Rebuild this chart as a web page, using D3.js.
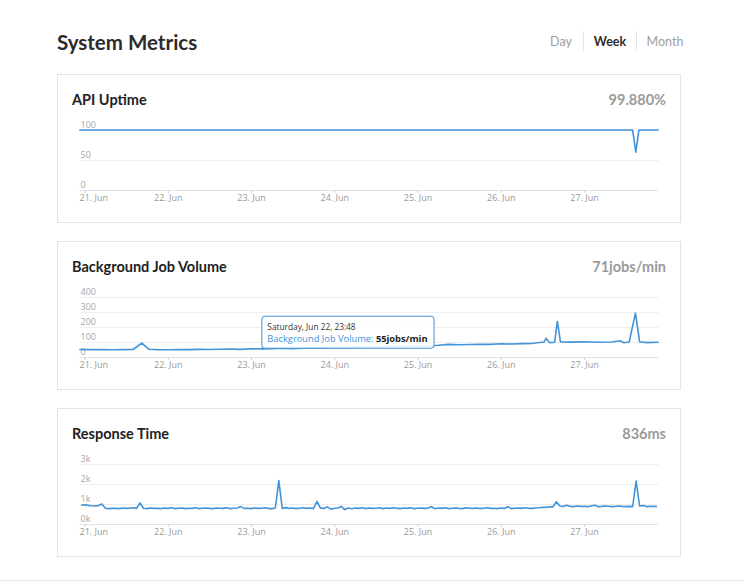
<!DOCTYPE html>
<html><head><meta charset="utf-8">
<script src="https://cdn.jsdelivr.net/npm/d3@7"></script>
<style>
html,body{margin:0;padding:0;background:#fff;}
svg{display:block;}
</style></head>
<body>
<svg id="chart" width="744" height="583"></svg>
<script>
// ---------------- DATA ----------------
const pageTitle = "System Metrics";
const rangeOptions = ["Day", "Week", "Month"];
const activeRange = "Week";

const panelTitles = ["API Uptime", "Background Job Volume", "Response Time"];
const panelValues = ["99.880%", "71jobs/min", "836ms"];

// hours offset from 21 Jun 00:00 (UTC)
const uptimeHours = [-1.5, 158.0, 158.9, 159.8, 165.5];
const uptimeValues = [100, 100, 63, 100, 100];
const uptimeTicks = [0, 50, 100];
const uptimeTickLabels = ["0", "50", "100"];

const jobsHours = [-1.5, 2, 5, 8, 11, 14, 16.5, 18.5, 21, 24, 27, 30, 33, 36, 39, 42, 45, 47.8, 51, 54, 57, 60, 63, 66, 69, 72, 75, 78, 81, 84, 87, 90, 93, 96, 99, 102, 105, 108, 111, 114, 117, 120, 123, 126, 129, 130.5, 132.5, 133, 134, 135.5, 136.3, 137.2, 140, 143, 146, 149, 152, 154.3, 155.5, 157, 158.8, 160, 162, 165.5];
const jobsValues = [50, 49, 50, 48, 49, 50, 93, 52, 49, 48, 50, 49, 51, 50, 52, 53, 51, 55, 54, 56, 58, 56, 60, 58, 61, 63, 62, 66, 65, 68, 70, 72, 71, 75, 74, 78, 84, 82, 83, 85, 84, 88, 87, 89, 90, 95, 100, 125, 96, 98, 237, 100, 99, 101, 100, 98, 100, 108, 95, 100, 293, 102, 96, 98];
const jobsTicks = [0, 100, 200, 300, 400];
const jobsTickLabels = ["0", "100", "200", "300", "400"];

// hourly samples, first sample at hour -1 (pointStart / pointInterval style)
const respStartHour = -1;
const respStepHours = 1;
const respValues = [
  940, 960, 930, 910, 900, 920, 1000, 790, 770, 780, 790, 770,
  800, 780, 790, 810, 780, 1050, 790, 770, 800, 780, 790, 770,
  800, 780, 810, 770, 790, 800, 770, 790, 780, 810, 770, 790,
  800, 780, 770, 800, 790, 780, 810, 770, 790, 800, 870, 780,
  790, 770, 800, 780, 790, 810, 780, 770, 800, 2170, 780, 820,
  780, 800, 770, 790, 810, 780, 800, 770, 1130, 790, 780, 860,
  740, 790, 800, 880, 720, 800, 760, 800, 780, 810, 770, 800,
  780, 790, 810, 770, 800, 780, 810, 790, 770, 800, 780, 810,
  770, 790, 800, 780, 790, 870, 760, 800, 780, 810, 770, 790,
  800, 780, 770, 810, 790, 780, 800, 770, 790, 810, 780, 790,
  770, 800, 780, 860, 770, 790, 800, 780, 810, 790, 780, 800,
  810, 830, 840, 860, 850, 1110, 900, 880, 940, 880, 870, 900,
  880, 890, 870, 900, 940, 870, 880, 900, 890, 870, 880, 900,
  880, 870, 880, 870, 2150, 900, 920, 870, 880, 890, 870
];
const respTicks = [0, 1000, 2000, 3000];
const respTickLabels = ["0k", "1k", "2k", "3k"];

const tooltipHeader = "Saturday, Jun 22, 23:48";
const tooltipSeries = "Background Job Volume";
const tooltipValue = "55jobs/min";
const tooltipHour = 47.8;
const tooltipVal = 55;

// ---------------- DRAW ----------------
const svg = d3.select("#chart");
const BLUE = "#4393d8";
const t0 = Date.UTC(2014, 5, 21, 0, 0);
const toDate = h => new Date(t0 + h * 3600e3);
const respHours = respValues.map((v, k) => respStartHour + k * respStepHours);

svg.append("line").attr("x1", 0).attr("x2", 744).attr("y1", 580.5).attr("y2", 580.5)
  .attr("stroke", "#e6e6e6");

svg.append("text").attr("x", 57).attr("y", 50).text(pageTitle)
  .attr("font-family", "Lato, 'Open Sans', sans-serif").attr("font-weight", 700)
  .attr("font-size", 20.5).attr("fill", "#2b2b2b");

const optX = [561, 610, 665];
rangeOptions.forEach((o, i) => {
  svg.append("text").attr("x", optX[i]).attr("y", 46).attr("text-anchor", "middle")
    .text(o).attr("font-family", "Lato, 'Open Sans', sans-serif")
    .attr("font-size", 12.5).attr("font-weight", o === activeRange ? 700 : 400)
    .attr("fill", o === activeRange ? "#2b2b2b" : "#a0a0a0");
});
[583.5, 636.5].forEach(x => svg.append("line").attr("x1", x).attr("x2", x)
  .attr("y1", 31).attr("y2", 51).attr("stroke", "#e6e6e6"));

const panels = [
  {top: 74, hours: uptimeHours, values: uptimeValues, ticks: uptimeTicks, labels: uptimeTickLabels, max: 100},
  {top: 241, hours: jobsHours, values: jobsValues, ticks: jobsTicks, labels: jobsTickLabels, max: 400},
  {top: 408, hours: respHours, values: respValues, ticks: respTicks, labels: respTickLabels, max: 3000}
];

const plotL = 79.5, plotR = 658.5;
const x = d3.scaleUtc().domain([toDate(-1.45), toDate(165.45)]).range([plotL, plotR]);
const axisFont = "'Open Sans', 'DejaVu Sans', sans-serif";
let jobsScaleY = null;

panels.forEach((p, i) => {
  const g = svg.append("g");
  g.append("rect").attr("x", 57.5).attr("y", p.top + 0.5).attr("width", 623).attr("height", 148)
    .attr("fill", "#fff").attr("stroke", "#e4e4e4");
  g.append("text").attr("x", 72).attr("y", p.top + 30.5).text(panelTitles[i])
    .attr("font-family", "Lato, 'Open Sans', sans-serif").attr("font-weight", 700)
    .attr("font-size", 14.5).attr("fill", "#222");
  g.append("text").attr("x", 666).attr("y", p.top + 30.5).attr("text-anchor", "end").text(panelValues[i])
    .attr("font-family", "Lato, 'Open Sans', sans-serif").attr("font-weight", 700)
    .attr("font-size", 14.5).attr("fill", "#9a9a9a");

  const y = d3.scaleLinear().domain([0, p.max]).range([p.top + 116, p.top + 56]);
  if (i === 1) jobsScaleY = y;

  p.ticks.forEach((t, k) => {
    if (t !== 0) {
      g.append("line").attr("x1", plotL).attr("x2", plotR)
        .attr("y1", Math.round(y(t)) + 0.5).attr("y2", Math.round(y(t)) + 0.5)
        .attr("stroke", "#eeeeee");
    }
    g.append("text").attr("x", plotL + 1).attr("y", y(t) - 2).text(p.labels[k])
      .attr("font-family", axisFont).attr("font-size", 9).attr("fill", "#a6a6a6");
  });

  const ax = g.append("g").attr("transform", `translate(0,${p.top + 116})`)
    .call(d3.axisBottom(x).ticks(d3.utcDay.every(1)).tickFormat(d3.utcFormat("%-d. %b"))
      .tickSize(4).tickSizeOuter(0));
  ax.select(".domain").attr("stroke", "#dde2ea").attr("d", `M${plotL},0.5H${plotR}`);
  ax.selectAll(".tick line").attr("stroke", "#c8d6e6").attr("y1", 0).attr("y2", 3);
  ax.selectAll(".tick text").attr("y", 11).attr("dy", 0)
    .attr("font-family", axisFont).attr("font-size", 9).attr("fill", "#999");
  ax.selectAll(".tick").each(function() {
    const text = d3.select(this).select("text").node();
    const bb = text.getBBox();
    const tr = this.transform.baseVal.consolidate().matrix.e;
    if (tr + bb.x < plotL) {
      d3.select(text).attr("x", plotL - tr - bb.x);
    }
  });

  const data = p.hours.map((h, k) => ({t: toDate(h), v: p.values[k]}));
  g.append("path").datum(data)
    .attr("d", d3.line().x(d => x(d.t)).y(d => y(d.v)))
    .attr("fill", "none").attr("stroke", BLUE).attr("stroke-width", 1.6)
    .attr("stroke-linejoin", "round");
});

// tooltip
const tipG = svg.append("g");
const px = x(toDate(tooltipHour)), py = jobsScaleY(tooltipVal);
const tx0 = px + 11, ty0 = py - 33;
const rect = tipG.append("rect").attr("fill", "rgba(255,255,255,0.88)")
  .attr("stroke", BLUE).attr("stroke-width", 1).attr("rx", 3);
const t1 = tipG.append("text").attr("x", tx0 + 6).attr("y", ty0 + 14)
  .attr("font-family", axisFont).attr("font-size", 8.3).attr("fill", "#333").text(tooltipHeader);
const t2 = tipG.append("text").attr("x", tx0 + 6).attr("y", ty0 + 26.5)
  .attr("font-family", axisFont).attr("font-size", 9.3);
t2.append("tspan").attr("fill", BLUE).text(tooltipSeries + ": ");
t2.append("tspan").attr("fill", "#222").attr("font-weight", 700).text(tooltipValue);
const w = Math.max(t1.node().getComputedTextLength(), t2.node().getComputedTextLength()) + 12;
rect.attr("x", tx0 + 0.5).attr("y", ty0 + 0.5).attr("width", w).attr("height", 32);
</script>
</body></html>
